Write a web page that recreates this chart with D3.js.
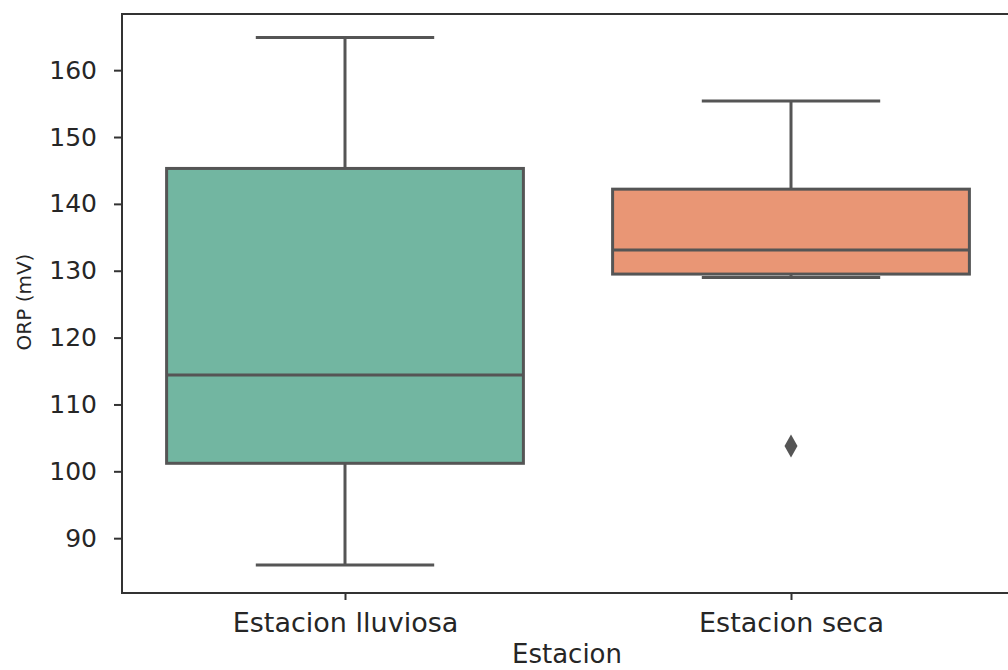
<!DOCTYPE html>
<html>
<head>
<meta charset="utf-8">
<script src="https://cdn.jsdelivr.net/npm/d3@7"></script>
<style>
  html, body { margin: 0; padding: 0; background: #fff; }
  svg { display: block; font-family: "DejaVu Sans", sans-serif; }
</style>
</head>
<body>
<svg id="chart" width="1008" height="670"></svg>
<script>
// ORP by season: five-number summaries per group
const categories = ["Estacion lluviosa", "Estacion seca"];
const whiskerLow  = [86.0, 129.0];
const q1          = [101.2, 129.5];
const medians     = [114.4, 133.1];
const q3          = [145.3, 142.2];
const whiskerHigh = [164.9, 155.4];
const outliers    = [[], [103.8]];
const yTicks      = [90, 100, 110, 120, 130, 140, 150, 160];
const fills       = ["#72b6a1", "#e99675"];

const svg = d3.select("#chart");
const plotLeft = 122, plotRight = 1014, plotTop = 14, plotBottom = 593;

const x = d3.scaleLinear().domain([-0.5, categories.length - 0.5]).range([plotLeft, plotRight]);
const y = d3.scaleLinear().domain([81.8, 168.4]).range([plotBottom, plotTop]);

const lineColor = "#555555";
const boxW = 0.8, capW = 0.4;

const data = categories.map((c, i) => ({
  c, i, lo: whiskerLow[i], q1: q1[i], med: medians[i], q3: q3[i], hi: whiskerHigh[i], out: outliers[i]
}));

const g = svg.append("g");

// whiskers and caps
data.forEach(d => {
  g.append("line").attr("x1", x(d.i)).attr("x2", x(d.i)).attr("y1", y(d.q3)).attr("y2", y(d.hi))
    .attr("stroke", lineColor).attr("stroke-width", 3);
  g.append("line").attr("x1", x(d.i)).attr("x2", x(d.i)).attr("y1", y(d.q1)).attr("y2", y(d.lo))
    .attr("stroke", lineColor).attr("stroke-width", 3);
  [d.lo, d.hi].forEach(v => {
    g.append("line").attr("x1", x(d.i - capW / 2)).attr("x2", x(d.i + capW / 2))
      .attr("y1", y(v)).attr("y2", y(v))
      .attr("stroke", lineColor).attr("stroke-width", 3);
  });
});

// boxes, medians and fliers
data.forEach(d => {
  g.append("rect")
    .attr("x", x(d.i - boxW / 2)).attr("width", x(d.i + boxW / 2) - x(d.i - boxW / 2))
    .attr("y", y(d.q3)).attr("height", y(d.q1) - y(d.q3))
    .attr("fill", fills[d.i]).attr("stroke", lineColor).attr("stroke-width", 3);
  g.append("line").attr("x1", x(d.i - boxW / 2)).attr("x2", x(d.i + boxW / 2))
    .attr("y1", y(d.med)).attr("y2", y(d.med))
    .attr("stroke", lineColor).attr("stroke-width", 3);
  d.out.forEach(v => {
    const cx = x(d.i), cy = y(v), hw = 6.5, hh = 11.5;
    g.append("path")
      .attr("d", `M${cx},${cy - hh}L${cx + hw},${cy}L${cx},${cy + hh}L${cx - hw},${cy}Z`)
      .attr("fill", lineColor);
  });
});

// axes
const yAxis = d3.axisLeft(y).tickValues(yTicks).tickSize(8).tickPadding(17);
const ya = svg.append("g").attr("transform", `translate(${plotLeft},0)`).call(yAxis);
ya.select(".domain").remove();
ya.selectAll(".tick line").attr("stroke", "#333").attr("stroke-width", 2);
ya.selectAll(".tick text").attr("font-size", 25).attr("fill", "#262626")
  .attr("font-family", "DejaVu Sans");

const xAxis = d3.axisBottom(x).tickValues(d3.range(categories.length))
  .tickFormat(i => categories[i]).tickSize(7).tickPadding(13);
const xa = svg.append("g").attr("transform", `translate(0,${plotBottom})`).call(xAxis);
xa.select(".domain").remove();
xa.selectAll(".tick line").attr("stroke", "#333").attr("stroke-width", 2);
xa.selectAll(".tick text").attr("font-size", 27).attr("fill", "#262626")
  .attr("font-family", "DejaVu Sans");

// spines
svg.append("rect").attr("x", plotLeft).attr("y", plotTop)
  .attr("width", plotRight - plotLeft).attr("height", plotBottom - plotTop)
  .attr("fill", "none").attr("stroke", "#333").attr("stroke-width", 2);

// axis labels
svg.append("text").attr("x", 567).attr("y", 663)
  .attr("text-anchor", "middle").attr("font-size", 26).attr("fill", "#262626")
  .text("Estacion");
svg.append("text").attr("transform", "translate(31,302) rotate(-90)")
  .attr("text-anchor", "middle").attr("font-size", 20).attr("fill", "#262626")
  .text("ORP (mV)");
</script>
</body>
</html>
